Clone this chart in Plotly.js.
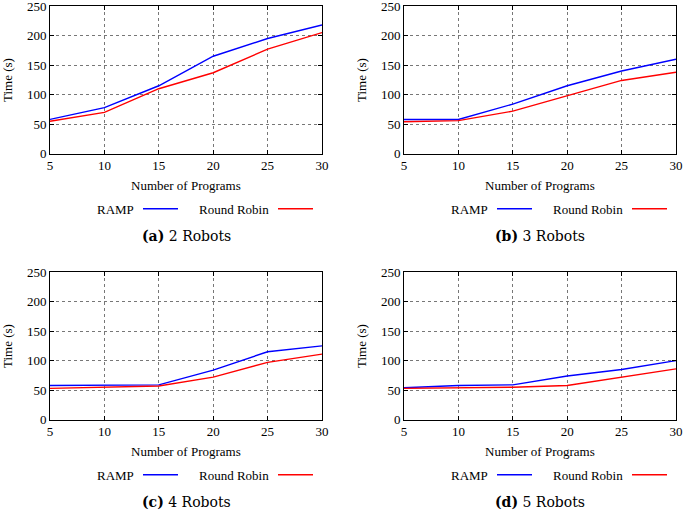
<!DOCTYPE html>
<html>
<head>
<meta charset="utf-8">
<script src="https://cdn.plot.ly/plotly-3.0.1.min.js"></script>
<style>
  html, body { margin: 0; padding: 0; background: #fff; }
  #chart { width: 685px; height: 513px; }
</style>
</head>
<body>
<div id="chart"></div>
<script>
// 各パネル: ロボット台数ごとの実行時間
const programs = [5, 10, 15, 20, 25, 30];
const panelLabels = ['(a)', '(b)', '(c)', '(d)'];
const panelTitles = ['2 Robots', '3 Robots', '4 Robots', '5 Robots'];
const seriesNames = ['RAMP', 'Round Robin'];

const ramp2 = [58, 78, 115, 165, 195, 218];
const rr2   = [55, 70, 110, 137, 177, 205];
const ramp3 = [58, 58, 84, 115, 140, 160];
const rr3   = [54, 56, 72, 98, 124, 138];
const ramp4 = [58, 58, 59, 84, 115, 125];
const rr4   = [53, 55, 57, 72, 97, 111];
const ramp5 = [54, 58, 59, 74, 85, 100];
const rr5   = [53, 54, 55, 58, 72, 86];

const rampSeries = [ramp2, ramp3, ramp4, ramp5];
const rrSeries = [rr2, rr3, rr4, rr5];

const W = 685, H = 513;
const FONT = '"Liberation Serif", "Times New Roman", Times, serif';
const FONT2 = '"DejaVu Serif", serif';
const COLORS = ['#0000ff', '#ff0000'];
const px = (x) => x / W;
const py = (y) => 1 - y / H;

// パネル左上のオフセット（ピクセル）
const OFFS = [[0, 0], [354, 0], [0, 266], [354, 266]];
const PLOT = { l: 50, r: 322, t: 6, b: 153.7 };

const traces = [];
const layout = {
  width: W, height: H,
  margin: { l: 0, r: 0, t: 0, b: 0 },
  paper_bgcolor: '#fff', plot_bgcolor: '#fff',
  showlegend: false,
  font: { family: FONT, size: 12, color: '#000' },
  annotations: [], shapes: [],
};

OFFS.forEach(([dx, dy], i) => {
  const n = i === 0 ? '' : String(i + 1);
  const xa = 'xaxis' + n, ya = 'yaxis' + n;
  [rampSeries[i], rrSeries[i]].forEach((ys, k) => {
    traces.push({
      x: programs, y: ys, mode: 'lines', name: seriesNames[k],
      xaxis: 'x' + n, yaxis: 'y' + n,
      line: { color: COLORS[k], width: 1.4 },
    });
  });
  const axBase = {
    showline: true, mirror: 'ticks', linecolor: '#000', linewidth: 1,
    ticks: 'inside', ticklen: 4, tickcolor: '#000',
    showgrid: true, gridcolor: '#777', griddash: 'dot', gridwidth: 1,
    zeroline: false, ticklabeloverflow: 'allow',
    tickfont: { family: FONT, size: 13, color: '#000' },
  };
  layout[xa] = Object.assign({}, axBase, {
    domain: [px(PLOT.l + dx), px(PLOT.r + dx)],
    range: [5, 30], tickvals: programs, anchor: 'y' + n,
  });
  layout[ya] = Object.assign({}, axBase, {
    domain: [py(PLOT.b + dy), py(PLOT.t + dy)],
    range: [0, 250], dtick: 50, anchor: 'x' + n,
  });

  const cx = (PLOT.l + PLOT.r) / 2 + dx;
  const ann = (x, y, text, extra) => layout.annotations.push(Object.assign({
    xref: 'paper', yref: 'paper', x: px(x), y: py(y), text, showarrow: false,
    xanchor: 'center', yanchor: 'middle',
    font: { family: FONT, size: 13, color: '#000' },
  }, extra || {}));

  ann(cx, 185 + dy, 'Number of Programs');
  ann(7 + dx, 80 + dy, 'Time (s)', { textangle: -90 });
  // gnuplot 風凡例: テキスト → 線サンプル
  ann(136 + dx, 209 + dy, seriesNames[0], { xanchor: 'right' });
  ann(271 + dx, 209 + dy, seriesNames[1], { xanchor: 'right' });
  [[143, 178], [278, 313]].forEach(([x0, x1], k) => {
    layout.shapes.push({
      type: 'line', xref: 'paper', yref: 'paper',
      x0: px(x0 + dx), x1: px(x1 + dx), y0: py(208.7 + dy), y1: py(208.7 + dy),
      line: { color: COLORS[k], width: 1.4 },
    });
  });
  ann(cx, 236 + dy, '<b>' + panelLabels[i] + '</b> ' + panelTitles[i],
    { font: { family: FONT2, size: 14, color: '#000' } });
});

Plotly.newPlot('chart', traces, layout, { displayModeBar: false, staticPlot: true });
</script>
</body>
</html>
